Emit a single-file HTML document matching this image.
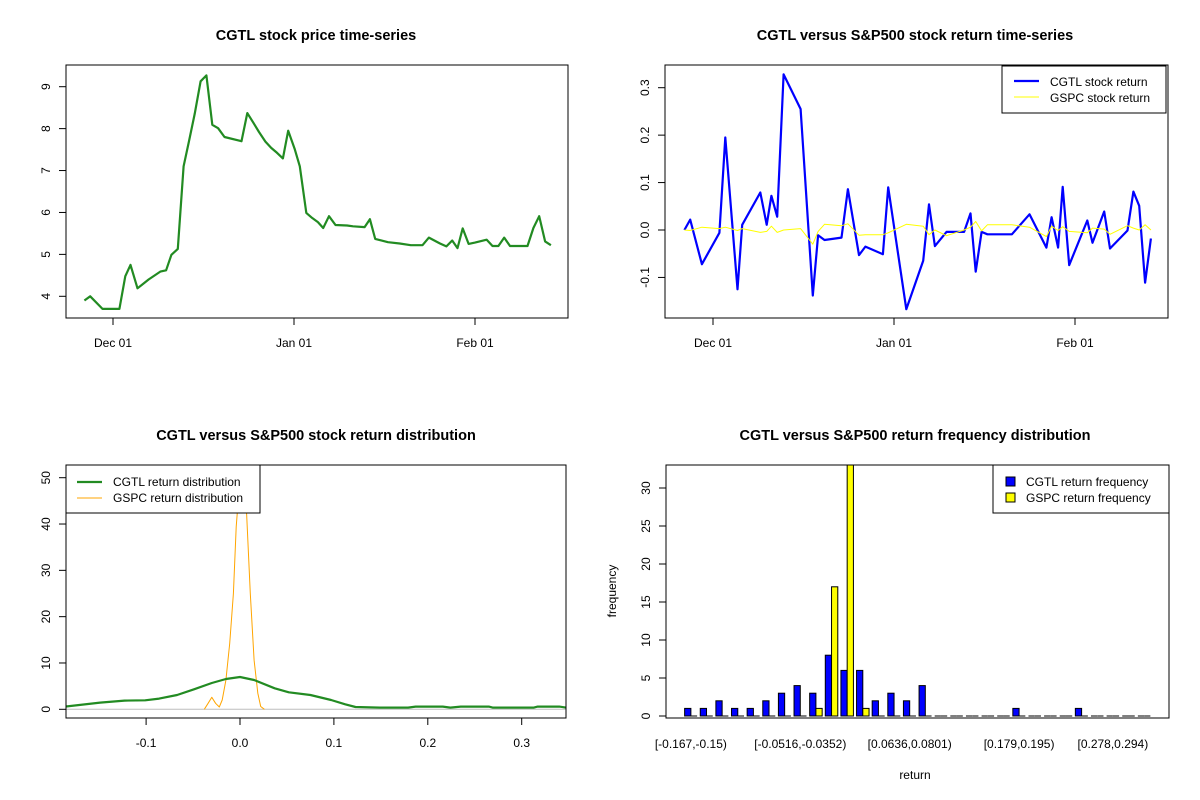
<!DOCTYPE html>
<html><head><meta charset="utf-8"><style>
html,body{margin:0;padding:0;background:#fff;}
svg{display:block;font-family:"Liberation Sans",Arial,sans-serif;}
</style></head><body>
<svg id="chart" width="1200" height="800" viewBox="0 0 1200 800" xmlns="http://www.w3.org/2000/svg">
<rect x="0" y="0" width="1200" height="800" fill="#fff"/>
<text x="316" y="40" text-anchor="middle" font-weight="bold" font-size="14.5">CGTL stock price time-series</text>
<text x="915" y="40" text-anchor="middle" font-weight="bold" font-size="14.5">CGTL versus S&amp;P500 stock return time-series</text>
<text x="316" y="440" text-anchor="middle" font-weight="bold" font-size="14.5">CGTL versus S&amp;P500 stock return distribution</text>
<text x="915" y="440" text-anchor="middle" font-weight="bold" font-size="14.5">CGTL versus S&amp;P500 return frequency distribution</text>
<text x="915" y="779" text-anchor="middle" font-size="12">return</text>
<text x="616" y="591" text-anchor="middle" font-size="12" transform="rotate(-90 616 591)">frequency</text>
<g id="p1"></g>
<g id="p2"></g>
<g id="p3"></g>
<g id="p4"></g>
</svg>
<script>
// ---- price time-series (days from Dec 01) ----
const priceDays = [-4.9,-3.9,-1.8,1.1,2.1,3.0,4.2,5.1,6.1,8.1,9.1,10.0,11.1,12.1,13.0,14.0,15.0,16.0,17.0,18.0,19.1,22.0,23.0,24.0,25.0,26.1,27.1,28.1,29.1,30.0,31.1,32.0,33.1,34.1,35.1,36.0,37.0,38.1,40.1,41.1,43.1,44.0,44.9,47.1,49.1,51.0,53.0,54.1,56.0,57.1,58.1,59.0,59.9,60.9,62.0,64.0,65.0,66.0,67.0,68.0,71.0,72.0,73.0,74.0,75.0];
const priceVals = [3.90,4.00,3.70,3.70,4.48,4.75,4.19,4.29,4.40,4.59,4.62,4.99,5.13,7.10,7.69,8.35,9.13,9.27,8.09,8.01,7.80,7.70,8.37,8.15,7.92,7.69,7.54,7.42,7.29,7.95,7.52,7.10,5.99,5.87,5.77,5.63,5.91,5.70,5.69,5.67,5.65,5.84,5.37,5.29,5.26,5.22,5.22,5.40,5.26,5.19,5.33,5.15,5.62,5.25,5.28,5.35,5.20,5.20,5.40,5.20,5.20,5.63,5.91,5.31,5.22];
const priceYTicks = [4,5,6,7,8,9];
const dateTickDays = [0,31,62];
const dateTickLabels = ["Dec 01","Jan 01","Feb 01"];
// ---- return time-series ----
const retDays = [-4.9,-3.9,-1.9,1.1,2.1,4.2,5.0,8.1,9.2,10.0,11.0,12.1,15.0,17.1,18.0,19.1,22.0,23.1,25.0,26.1,29.1,30.0,33.1,36.0,37.0,38.0,40.0,43.0,44.1,45.0,46.0,47.0,51.2,54.2,57.1,58.0,59.1,59.9,61.0,64.1,65.0,67.0,68.0,71.0,72.0,73.0,74.0,75.0];
const cgtlRet = [0,0.022,-0.072,-0.006,0.195,-0.125,0.011,0.079,0.011,0.072,0.028,0.328,0.255,-0.138,-0.011,-0.021,-0.016,0.086,-0.053,-0.035,-0.051,0.090,-0.167,-0.065,0.054,-0.034,-0.004,-0.004,0.035,-0.088,-0.004,-0.009,-0.009,0.033,-0.037,0.027,-0.037,0.091,-0.074,0.020,-0.027,0.039,-0.039,-0.001,0.081,0.051,-0.111,-0.018];
const gspcRet = [0,-0.001,0.006,0.003,0.006,-0.001,0.003,-0.005,-0.003,0.008,-0.005,0,0.003,-0.030,-0.003,0.012,0.009,0.013,-0.011,-0.010,-0.010,-0.006,0.012,0.008,-0.010,0,-0.012,0,0.006,0.018,-0.002,0.011,0.011,0.006,-0.014,0.008,-0.001,0.007,-0.003,-0.006,0.004,0.002,-0.009,0.009,0.004,0,0.011,0];
const retYTicks = [-0.1,0.0,0.1,0.2,0.3];
const retYLabels = ["-0.1","0.0","0.1","0.2","0.3"];
// ---- density ----
const cgtlDensX = [-0.186,-0.149,-0.123,-0.101,-0.086,-0.067,-0.049,-0.030,-0.015,0,0.015,0.037,0.052,0.075,0.097,0.112,0.123,0.149,0.179,0.187,0.216,0.224,0.235,0.265,0.269,0.313,0.317,0.340,0.347];
const cgtlDensY = [0.58,1.44,1.87,1.94,2.30,3.09,4.32,5.68,6.55,6.98,6.33,4.53,3.67,3.09,2.01,1.08,0.50,0.36,0.36,0.58,0.58,0.36,0.58,0.58,0.36,0.36,0.58,0.58,0.36];
const gspcDensX = [-0.038,-0.034,-0.030,-0.026,-0.022,-0.019,-0.015,-0.011,-0.007,-0.004,0,0.002,0.004,0.007,0.011,0.015,0.019,0.022,0.026];
const gspcDensY = [0,1.3,2.6,1.3,0.5,2.0,6.3,14.2,25,39.4,50,53,51,42.3,25,10.6,3.5,0.6,0];
const densXTicks = [-0.1,0.0,0.1,0.2,0.3];
const densXLabels = ["-0.1","0.0","0.1","0.2","0.3"];
const densYTicks = [0,10,20,30,40,50];
// ---- histogram ----
const cgtlFreq = [1,1,2,1,1,2,3,4,3,8,6,6,2,3,2,4,0,0,0,0,0,1,0,0,0,1,0,0,0,0];
const gspcFreq = [0,0,0,0,0,0,0,0,1,17,35,1,0,0,0,0,0,0,0,0,0,0,0,0,0,0,0,0,0,0];
const histLabelGroups = [0,7,14,21,27];
const histLabels = ["[-0.167,-0.15)","[-0.0516,-0.0352)","[0.0636,0.0801)","[0.179,0.195)","[0.278,0.294)"];
const histYTicks = [0,5,10,15,20,25,30];

const NS = "http://www.w3.org/2000/svg";
function mk(parent, tag, attrs, txt){
  const e = document.createElementNS(NS, tag);
  for (const k in attrs) e.setAttribute(k, attrs[k]);
  if (txt !== undefined) e.textContent = txt;
  parent.appendChild(e); return e;
}
function lin(d0,d1,r0,r1){ return v => r0 + (v-d0)*(r1-r0)/(d1-d0); }
function clip(g, id, x0,y0,x1,y1){
  const cp = mk(g,'clipPath',{id:id}); mk(cp,'rect',{x:x0,y:y0,width:x1-x0,height:y1-y0}); return 'url(#'+id+')';
}
function box(g,x0,y0,x1,y1,name){
  const b = mk(g,'rect',{x:x0,y:y0,width:x1-x0,height:y1-y0,fill:'none',stroke:'#000','stroke-width':1});
  
  
}
function yAxis(g, ticks, labels, sy, x0, name){
  ticks.forEach((t,i)=>{
    const y = sy(t);
    const l = mk(g,'line',{x1:x0-7,y1:y,x2:x0,y2:y,stroke:'#000'});
    
    
    const tx = mk(g,'text',{x:x0-16,y:y,'font-size':12,'text-anchor':'middle',transform:'rotate(-90 '+(x0-16)+' '+y+')'}, labels[i]);
    
    
  });
}
function xAxis(g, ticks, labels, sx, y0, name){
  ticks.forEach((t,i)=>{
    const x = sx(t);
    const l = mk(g,'line',{x1:x,y1:y0,x2:x,y2:y0+7,stroke:'#000'});
    
    
    const tx = mk(g,'text',{x:x,y:y0+29,'font-size':12,'text-anchor':'middle'}, labels[i]);
    
    
  });
}
function path(g, xs, ys, sx, sy, color, w, cp, name){
  const d = xs.map((x,i)=>(i?'L':'M')+sx(x).toFixed(1)+','+sy(ys[i]).toFixed(1)).join(' ');
  const p = mk(g,'path',{d:d,fill:'none',stroke:color,'stroke-width':w,'stroke-linejoin':'round','clip-path':cp});
  
  
}

// Panel 1
(function(){
  const g = document.getElementById('p1');
  const X0=66,X1=568,Y0=65,Y1=318;
  const sx = lin(0,31,113,294), sy = lin(4,9,296.3,86.7);
  const cp = clip(g,'c1',X0,Y0,X1,Y1);
  path(g, priceDays, priceVals, sx, sy, '#228b22', 2.2, cp, 'price-line');
  box(g,X0,Y0,X1,Y1,'price-plot-box');
  yAxis(g, priceYTicks, priceYTicks.map(String), sy, X0, 'price-y');
  xAxis(g, dateTickDays, dateTickLabels, sx, Y1, 'price-x');
})();
// Panel 2
(function(){
  const g = document.getElementById('p2');
  const X0=665,X1=1168,Y0=65,Y1=318;
  const sx = lin(0,31,713,894), sy = lin(0,0.3,230,87.7);
  const cp = clip(g,'c2',X0,Y0,X1,Y1);
  path(g, retDays, cgtlRet, sx, sy, '#0000ff', 2.2, cp, 'cgtl-return-line');
  path(g, retDays, gspcRet, sx, sy, '#ffff00', 1, cp, 'gspc-return-line');
  box(g,X0,Y0,X1,Y1,'return-plot-box');
  yAxis(g, retYTicks, retYLabels, sy, X0, 'return-y');
  xAxis(g, dateTickDays, dateTickLabels, sx, Y1, 'return-x');
  const lg = mk(g,'g',{});
  
  
  mk(lg,'rect',{x:1002,y:66,width:164,height:47,fill:'#fff',stroke:'#000'});
  mk(lg,'line',{x1:1014,y1:81,x2:1039,y2:81,stroke:'#0000ff','stroke-width':2.2});
  mk(lg,'line',{x1:1014,y1:97,x2:1039,y2:97,stroke:'#ffff00','stroke-width':1});
  mk(lg,'text',{x:1050,y:86,'font-size':12},'CGTL stock return');
  mk(lg,'text',{x:1050,y:102,'font-size':12},'GSPC stock return');
})();
// Panel 3
(function(){
  const g = document.getElementById('p3');
  const X0=66,X1=566,Y0=465,Y1=718;
  const sx = lin(0,0.1,240,333.9), sy = lin(0,50,709.3,477.7);
  const cp = clip(g,'c3',X0,Y0,X1,Y1);
  const zl = mk(g,'line',{x1:X0,y1:sy(0),x2:X1,y2:sy(0),stroke:'#bebebe'});
  
  
  path(g, gspcDensX, gspcDensY, sx, sy, '#ffa500', 1, cp, 'gspc-density-line');
  path(g, cgtlDensX, cgtlDensY, sx, sy, '#228b22', 2.2, cp, 'cgtl-density-line');
  box(g,X0,Y0,X1,Y1,'density-plot-box');
  yAxis(g, densYTicks, densYTicks.map(String), sy, X0, 'density-y');
  xAxis(g, densXTicks, densXLabels, sx, Y1, 'density-x');
  const lg = mk(g,'g',{});
  
  
  mk(lg,'rect',{x:66,y:465,width:194,height:48,fill:'#fff',stroke:'#000'});
  mk(lg,'line',{x1:77,y1:482,x2:102,y2:482,stroke:'#228b22','stroke-width':2.2});
  mk(lg,'line',{x1:77,y1:498,x2:102,y2:498,stroke:'#ffa500','stroke-width':1});
  mk(lg,'text',{x:113,y:486,'font-size':12},'CGTL return distribution');
  mk(lg,'text',{x:113,y:502,'font-size':12},'GSPC return distribution');
})();
// Panel 4
(function(){
  const g = document.getElementById('p4');
  const X0=666,X1=1169,Y0=465,Y1=718;
  const sx = lin(0.5-2.98, 75+2.98, X0, X1), sy = lin(0,30,716,488);
  const cp = clip(g,'c4',X0,Y0,X1,Y1);
  const bars = mk(g,'g',{'clip-path':cp});
  function bar(u, v, fill, name){
    let el;
    if (v > 0) {
      el = mk(bars,'rect',{x:sx(u),y:sy(v),width:sx(u+1)-sx(u),height:sy(0)-sy(v),fill:fill,stroke:'#000','stroke-width':1});
    } else {
      el = mk(bars,'line',{x1:sx(u),y1:sy(0),x2:sx(u+1),y2:sy(0),stroke:'#000','stroke-width':1});
    }
    
    
  }
  cgtlFreq.forEach((v,i)=>bar(0.5+2.5*i, v, '#0000ff', 'cgtl-freq-bar'));
  gspcFreq.forEach((v,i)=>bar(1.5+2.5*i, v, '#ffff00', 'gspc-freq-bar'));
  box(g,X0,Y0,X1,Y1,'hist-plot-box');
  yAxis(g, histYTicks, histYTicks.map(String), sy, X0, 'hist-y');
  histLabelGroups.forEach((k,i)=>{
    const t = mk(g,'text',{x:sx(1.5+2.5*k),y:748,'font-size':12,'text-anchor':'middle'}, histLabels[i]);
    
    
  });
  const lg = mk(g,'g',{});
  
  
  mk(lg,'rect',{x:993,y:465,width:176,height:48,fill:'#fff',stroke:'#000'});
  mk(lg,'rect',{x:1006,y:477,width:9,height:9,fill:'#0000ff',stroke:'#000'});
  mk(lg,'rect',{x:1006,y:493,width:9,height:9,fill:'#ffff00',stroke:'#000'});
  mk(lg,'text',{x:1026,y:486,'font-size':12},'CGTL return frequency');
  mk(lg,'text',{x:1026,y:502,'font-size':12},'GSPC return frequency');
})();
</script>
</body></html>
